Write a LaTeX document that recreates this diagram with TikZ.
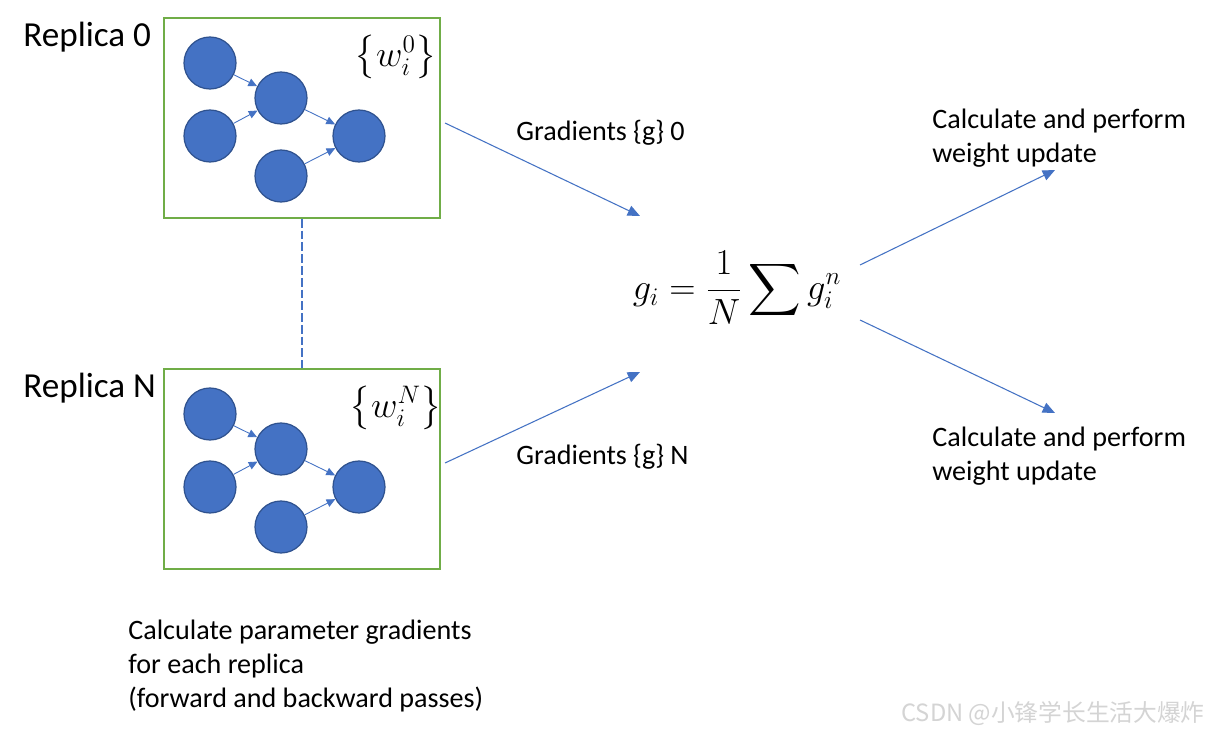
\documentclass[tikz,border=0pt]{standalone}
\usepackage{amsmath}
\usepackage{fontspec}
\setmainfont{Carlito}
\newfontfamily\cjkfont{Noto Sans CJK SC}
\definecolor{NetFill}{RGB}{68,114,196}
\definecolor{NetBorder}{RGB}{47,82,143}
\definecolor{BoxBorder}{RGB}{112,173,71}
\definecolor{FlowColor}{RGB}{68,114,196}
\definecolor{MarkGray}{RGB}{212,212,212}
\usetikzlibrary{
  positioning,
  arrows.meta
}
\tikzset{
  % Neuron of the small network
  neuron/.style={
    circle,
    draw=NetBorder,
    fill=NetFill,
    line width=0.7pt,
    minimum size=1.04cm,
    inner sep=0pt
  },
  % Link between neurons
  link/.style={
    draw=FlowColor,
    line width=0.5pt,
    -{Triangle[length=5pt,width=4.5pt]}
  },
  % Box holding one replica
  replicabox/.style={
    draw=BoxBorder,
    line width=1.1pt,
    minimum width=5.52cm,
    minimum height=4cm,
    inner sep=0pt
  },
  % Dashed tie between replicas
  tie/.style={
    draw=FlowColor,
    line width=1.7pt,
    dash pattern=on 5pt off 1.7pt
  },
  % Gradient flow arrow
  flow/.style={
    draw=FlowColor,
    line width=0.6pt,
    -{Triangle[length=7pt,width=6pt]}
  },
  % Texts
  rlabel/.style={font=\fontsize{20}{24}\selectfont, inner sep=0pt},
  tlabel/.style={font=\fontsize{16}{19.6}\selectfont, align=left, inner sep=0pt},
  wlabel/.style={font=\fontsize{20}{23}\selectfont, inner sep=0pt}
}
\begin{document}
\begin{tikzpicture}[x=0.02cm, y=-0.02cm]
  \useasboundingbox[fill=white] (0,0) rectangle (1212,732);
  % Replicas
  \foreach \r/\y in {0/118, N/469} {
    \node[replicabox] (box\r) at (302, \y) {};
    \node[neuron] (a\r) at (210, \y-55) {};
    \node[neuron] (b\r) at (210, \y+18) {};
    \node[neuron] (c\r) at (281, \y-20) {};
    \node[neuron] (d\r) at (281, \y+58) {};
    \node[neuron] (e\r) at (359, \y+18) {};
    \draw[link] (a\r) -- (c\r);
    \draw[link] (b\r) -- (c\r);
    \draw[link] (c\r) -- (e\r);
    \draw[link] (d\r) -- (e\r);
    \node[wlabel] (w\r) at (396, \y-61) {$\left\{w_i^{\r}\right\}$};
  }
  \node[rlabel, anchor=base west] (r0) at (23, 47) {Replica 0};
  \node[rlabel, anchor=base west] (rN) at (23, 398) {Replica N};
  \draw[tie] (box0.south) -- (boxN.north);
  % Averaging
  \node[font=\fontsize{22}{26}\selectfont, inner sep=0pt] (avg) at (737, 288)
    {$\displaystyle g_i = \frac{1}{N}\sum g_i^n$};
  \coordinate (g0s) at (445, 123);
  \coordinate (g0e) at (640, 216);
  \coordinate (gNs) at (445, 463);
  \coordinate (gNe) at (640, 372);
  \draw[flow] (g0s) -- (g0e);
  \draw[flow] (gNs) -- (gNe);
  \node[tlabel, anchor=base west] (l0) at (516, 141) {Gradients \{g\} 0};
  \node[tlabel, anchor=base west] (lN) at (516, 464) {Gradients \{g\} N};
  % Weight updates
  \coordinate (u0s) at (860, 265);
  \coordinate (u0e) at (1055, 170);
  \coordinate (uNs) at (860, 320);
  \coordinate (uNe) at (1055, 413);
  \draw[flow] (u0s) -- (u0e);
  \draw[flow] (uNs) -- (uNe);
  \node[tlabel, anchor=west] (up0) at (932, 138) {Calculate and perform\\weight update};
  \node[tlabel, anchor=west] (upN) at (932, 456) {Calculate and perform\\weight update};
  % Caption
  \node[tlabel, anchor=west] (cap) at (128, 666)
    {Calculate parameter gradients\\for each replica\\(forward and backward passes)};
  \node[font=\cjkfont\fontsize{13.5}{16}\selectfont, text=MarkGray, anchor=east, inner sep=0pt] (mark) at (1205, 713)
    {CSDN @小锋学长生活大爆炸};
\end{tikzpicture}
\end{document}
